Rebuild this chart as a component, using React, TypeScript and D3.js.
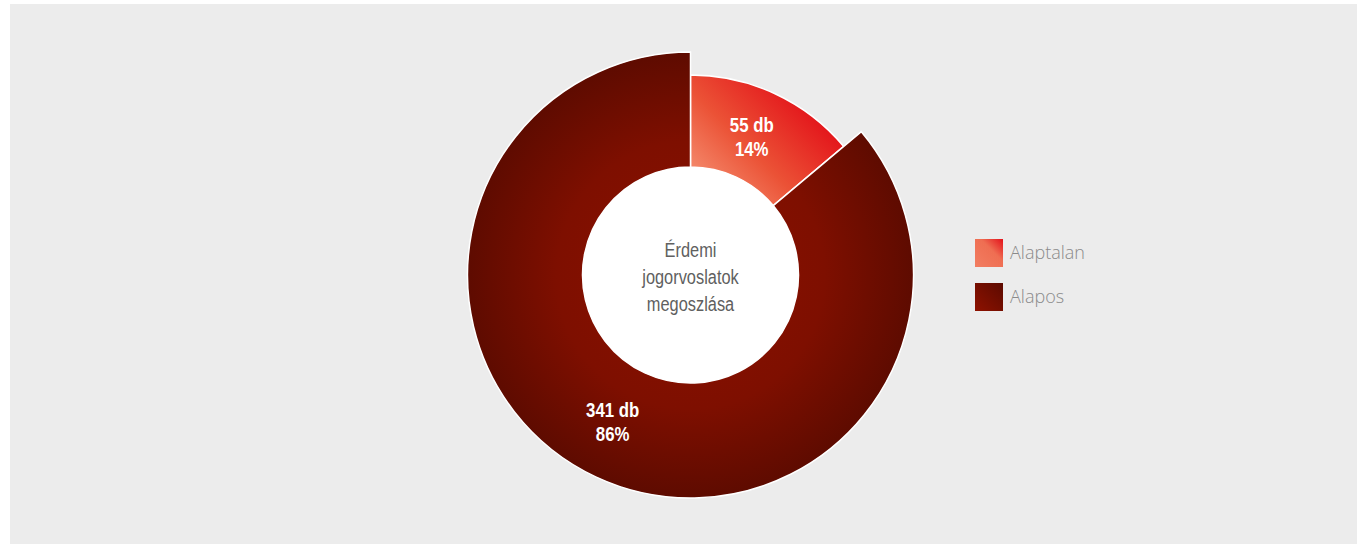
import React from "react";
import * as d3 from "d3";

const categories = ["Alaptalan", "Alapos"];
const counts = [55, 341];
const percents = ["14%", "86%"];
const centerTitle = ["Érdemi", "jogorvoslatok", "megoszlása"];

const W = 1358;
const H = 544;
const cx = 690.5;
const cy = 275;
const innerR = 108;
const outerRs = [200, 223];
const labelRadii = [152, 170];
const labelShift = [
  [-3, -5],
  [-6, -12],
];

const font = "'Liberation Sans', 'Arimo', sans-serif";

export default function App() {
  const pie = d3.pie<number>().sort(null).value((d) => d)(counts);
  const arcs = pie.map((p, i) =>
    d3.arc<d3.PieArcDatum<number>>().innerRadius(innerR).outerRadius(outerRs[i])(p) as string
  );
  const labelArc = d3.arc<d3.PieArcDatum<number>>();
  const labelPos = pie.map((p, i) => {
    const r = labelRadii[i];
    const c = labelArc.innerRadius(r).outerRadius(r).centroid(p);
    return [c[0] + labelShift[i][0], c[1] + labelShift[i][1]];
  });
  const fills = ["url(#gSmall)", "url(#gBig)"];
  return (
    <svg width={W} height={H} style={{ position: "absolute", left: 0, top: 0 }}>
      <defs>
        <linearGradient id="gSmall" gradientUnits="userSpaceOnUse" x1={20} y1={-85} x2={120} y2={-185}>
          <stop offset="0" stopColor="#f4896b" />
          <stop offset="0.4" stopColor="#eb5236" />
          <stop offset="1" stopColor="#e20a16" />
        </linearGradient>
        <radialGradient id="gBig" gradientUnits="userSpaceOnUse" cx={0} cy={0} r={outerRs[1]}>
          <stop offset="0" stopColor="#8c1100" />
          <stop offset="0.6" stopColor="#7e0f00" />
          <stop offset="1" stopColor="#5e0b00" />
        </radialGradient>
        <linearGradient id="lSmall" x1="0" y1="1" x2="1" y2="0">
          <stop offset="0" stopColor="#f27e62" />
          <stop offset="0.6" stopColor="#ef6e52" />
          <stop offset="1" stopColor="#e3111a" />
        </linearGradient>
        <linearGradient id="lBig" x1="0" y1="1" x2="1" y2="0">
          <stop offset="0" stopColor="#8e1200" />
          <stop offset="1" stopColor="#5c0a00" />
        </linearGradient>
      </defs>
      <rect x={10} y={4} width={1347} height={540} fill="#ececec" />
      <g transform={`translate(${cx},${cy})`}>
        {arcs.map((d, i) => (
          <path key={i} d={d} fill={fills[i]} stroke="#ffffff" strokeWidth={1.5} strokeLinejoin="miter" />
        ))}
        <circle r={innerR} fill="#ffffff" />
        {centerTitle.map((t, i) => (
          <text
            key={i}
            transform={`translate(0,${-24 + i * 27}) scale(0.78,1)`}
            textAnchor="middle"
            dominantBaseline="middle"
            fontFamily={font}
            fontSize={21}
            fill="#606060"
          >
            {t}
          </text>
        ))}
        {labelPos.map((p, i) => (
          <g key={i} transform={`translate(${p[0]},${p[1]}) scale(0.8,1)`}>
            <text textAnchor="middle" fontFamily={font} fontWeight="bold" fontSize={21} fill="#ffffff">
              <tspan x={0} y={0}>{`${counts[i]} db`}</tspan>
              <tspan x={0} y={24}>{percents[i]}</tspan>
            </text>
          </g>
        ))}
      </g>
      {categories.map((c, i) => (
        <g key={c} transform={`translate(975,${239 + i * 44})`}>
          <rect width={28} height={28} fill={i === 0 ? "url(#lSmall)" : "url(#lBig)"} />
          <text x={35} y={15} dominantBaseline="middle" fontFamily="'Open Sans', 'Noto Sans', sans-serif" fontWeight={300} fontSize={18} fill="#8a8a8a">
            {c}
          </text>
        </g>
      ))}
    </svg>
  );
}
